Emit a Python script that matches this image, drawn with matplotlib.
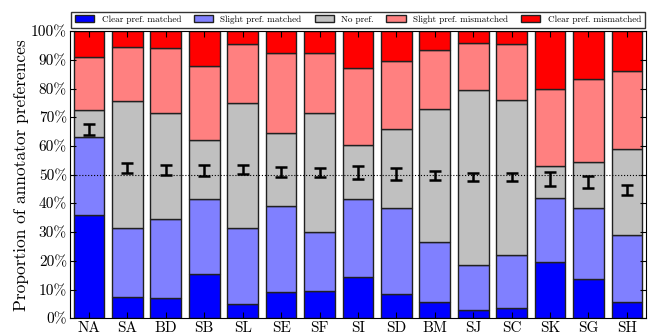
import matplotlib
matplotlib.use('Agg')
import matplotlib.pyplot as plt
import numpy as np

plt.rcParams['font.family'] = ['cmr10', 'DejaVu Serif']
plt.rcParams['mathtext.fontset'] = 'cm'
plt.rcParams['axes.formatter.use_mathtext'] = True

systems = ['NA', 'SA', 'BD', 'SB', 'SL', 'SE', 'SF', 'SI', 'SD', 'BM', 'SJ', 'SC', 'SK', 'SG', 'SH']

# cumulative tops of each band, in percent
top_clear_match = [36, 7.5, 7.2, 15.5, 5, 9, 9.5, 14.5, 8.5, 5.5, 3, 3.5, 19.5, 13.5, 5.5]
top_slight_match = [63, 31.5, 34.5, 41.5, 31.5, 39, 30, 41.5, 38.5, 26.5, 18.5, 22, 42, 38.5, 29]
top_no_pref = [72.5, 75.5, 71.5, 62, 75, 64.5, 71.5, 60.5, 66, 73, 79.5, 76, 53, 54.5, 59]
top_slight_mismatch = [91, 94.5, 94, 88, 95.5, 92.5, 92.5, 87, 89.5, 93.5, 96, 95.5, 80, 83.5, 86]

# preference score with its error
score = [65.8, 52.3, 51.7, 51.5, 51.8, 51.0, 50.8, 50.8, 50.3, 49.8, 49.1, 49.2, 48.5, 47.5, 44.8]
score_err = [2.0, 1.7, 1.7, 2.0, 1.5, 1.8, 1.6, 2.2, 2.0, 1.6, 1.4, 1.5, 2.5, 2.2, 1.7]

labels = ['Clear pref. matched', 'Slight pref. matched', 'No pref.',
          'Slight pref. mismatched', 'Clear pref. mismatched']
colors = ['#0000ff', '#8080ff', '#c0c0c0', '#ff8080', '#ff0000']

tops = [np.array(top_clear_match), np.array(top_slight_match), np.array(top_no_pref),
        np.array(top_slight_mismatch), np.full(len(systems), 100.0)]

fig = plt.figure(figsize=(6.52, 3.35), dpi=100)
ax = fig.add_axes([0.107, 0.05, 0.884, 0.857])

x = np.arange(len(systems))
bottom = np.zeros(len(systems))
for top, lab, col in zip(tops, labels, colors):
    ax.bar(x, top - bottom, bottom=bottom, width=0.8, color=col,
           edgecolor='#202020', linewidth=1.0, label=lab)
    bottom = top

ax.axhline(50, color='black', linestyle=':', linewidth=0.8)
ax.errorbar(x, score, yerr=score_err, fmt='none', ecolor='black',
            elinewidth=1.8, capsize=4, capthick=1.8)

ax.set_xlim(-0.5, len(systems) - 0.5)
ax.set_ylim(0, 100)
ax.set_xticks(x)
ax.set_xticklabels(systems, fontsize=11)
ax.set_yticks(np.arange(0, 101, 10))
ax.set_yticklabels(['%d%%' % v for v in range(0, 101, 10)], fontsize=11)
ax.tick_params(direction='in', top=True, right=True, length=4, pad=2)
ax.set_ylabel('Proportion of annotator preferences', fontsize=12.5, labelpad=1.5)

ax.legend(loc='lower center', bbox_to_anchor=(0.5, 1.012),
          ncol=5, fontsize=6.6, frameon=True, fancybox=False, edgecolor='black',
          handlelength=2.1, handleheight=0.75, borderpad=0.4, columnspacing=1.4,
          handletextpad=0.8, borderaxespad=0)

fig.savefig('out.png', dpi=100)
